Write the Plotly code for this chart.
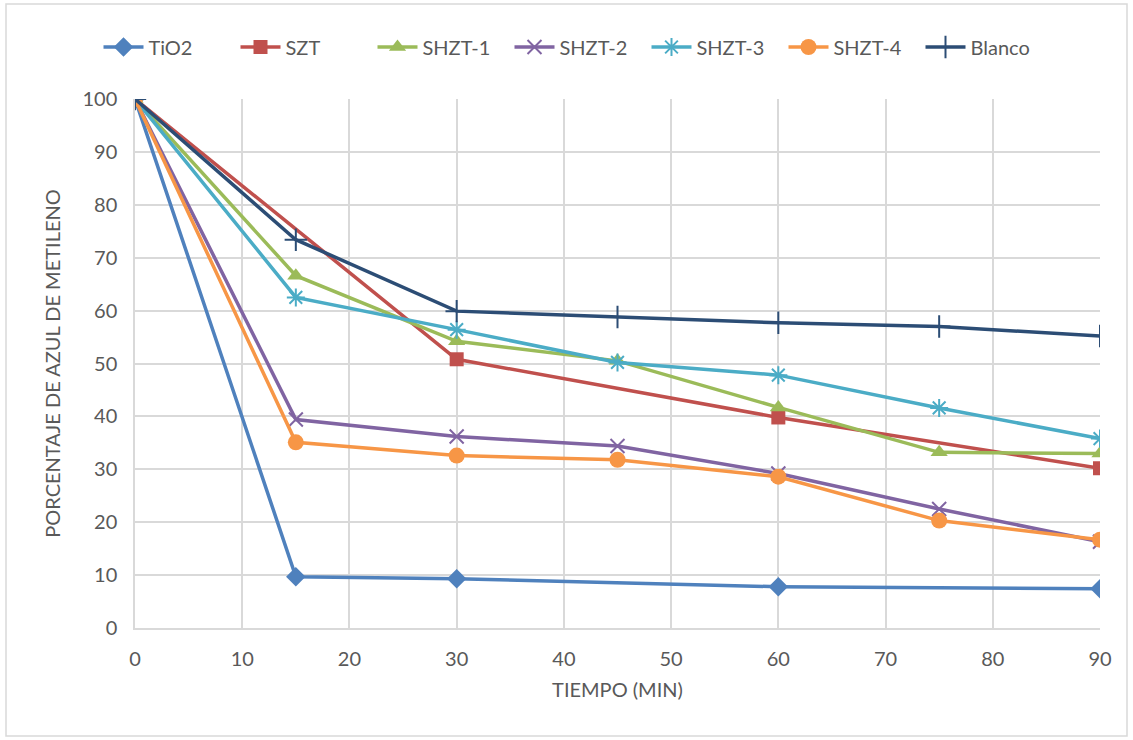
import plotly.graph_objects as go

# Tiempo (min) for each series
t_tio2 = [0, 15, 30, 60, 90]
t_szt = [0, 30, 60, 90]
t_full = [0, 15, 30, 45, 60, 75, 90]

# Porcentaje de azul de metileno
tio2 = [100, 9.7, 9.3, 7.8, 7.4]
szt = [100, 50.8, 39.8, 30.2]
shzt1 = [100, 66.6, 54.2, 50.5, 41.7, 33.2, 33.0]
shzt2 = [100, 39.4, 36.2, 34.4, 29.2, 22.5, 16.3]
shzt3 = [100, 62.5, 56.4, 50.2, 47.8, 41.6, 35.8]
shzt4 = [100, 35.1, 32.6, 31.8, 28.6, 20.3, 16.7]
blanco = [100, 73.4, 59.9, 58.8, 57.7, 57.0, 55.2]

x_ticks = [0, 10, 20, 30, 40, 50, 60, 70, 80, 90]
y_ticks = [0, 10, 20, 30, 40, 50, 60, 70, 80, 90, 100]

series = [
    ("TiO2", t_tio2, tio2, "#4F81BD", "diamond", 15, 0),
    ("SZT", t_szt, szt, "#C0504D", "square", 14, 0),
    ("SHZT-1", t_full, shzt1, "#9BBB59", "triangle-up", 15, 0),
    ("SHZT-2", t_full, shzt2, "#8064A2", "x-thin-open", 14, 2),
    ("SHZT-3", t_full, shzt3, "#4BACC6", "asterisk-open", 15, 2),
    ("SHZT-4", t_full, shzt4, "#F79646", "circle", 16, 0),
    ("Blanco", t_full, blanco, "#2C4D75", "cross-thin-open", 16, 2),
]

fig = go.Figure()
for name, xs, ys, color, symbol, size, mlw in series:
    fig.add_trace(go.Scatter(
        x=xs, y=ys, name=name, mode="lines+markers",
        line=dict(color=color, width=3.5),
        marker=dict(symbol=symbol, size=size, color=color,
                    line=dict(color=color, width=mlw)),
    ))

font_family = "Lato, 'Open Sans', sans-serif"
grid = "#D9D9D9"
txt = "#595959"

fig.update_layout(
    width=1133, height=740,
    margin=dict(l=135, r=33, t=99, b=112),
    paper_bgcolor="white", plot_bgcolor="white",
    font=dict(family=font_family, size=20, color=txt),
    showlegend=True,
    legend=dict(orientation="h", x=(578 - 135) / 965, xanchor="center",
                y=(628 - 47) / 529, yanchor="middle",
                font=dict(size=20, color=txt),
                itemwidth=40, tracegroupgap=0, entrywidth=82),
    xaxis=dict(range=[0, 90], tickvals=x_ticks, showgrid=True, gridcolor=grid,
               gridwidth=1.5, zeroline=False, showline=True, linecolor=grid,
               linewidth=1.5, ticks="", ticklabelstandoff=12,
               tickfont=dict(size=20, color=txt),
               title=dict(text="TIEMPO (MIN)", font=dict(size=20, color=txt),
                          standoff=14)),
    yaxis=dict(range=[0, 100], tickvals=y_ticks, showgrid=True, gridcolor=grid,
               gridwidth=1.5, zeroline=False, showline=True, linecolor=grid,
               linewidth=1.5, ticks="", ticklabelstandoff=12,
               tickfont=dict(size=20, color=txt),
               title=dict(text="PORCENTAJE DE AZUL DE METILENO",
                          font=dict(size=20, color=txt), standoff=16)),
)

# Chart-area border
fig.add_shape(type="rect", xref="paper", yref="paper",
              x0=(6 - 135) / 965, x1=(1127 - 135) / 965,
              y0=(628 - 736) / 529, y1=(628 - 4) / 529,
              line=dict(color="#D9D9D9", width=1.5), fillcolor="rgba(0,0,0,0)",
              layer="below")

fig.write_html("out.html")
